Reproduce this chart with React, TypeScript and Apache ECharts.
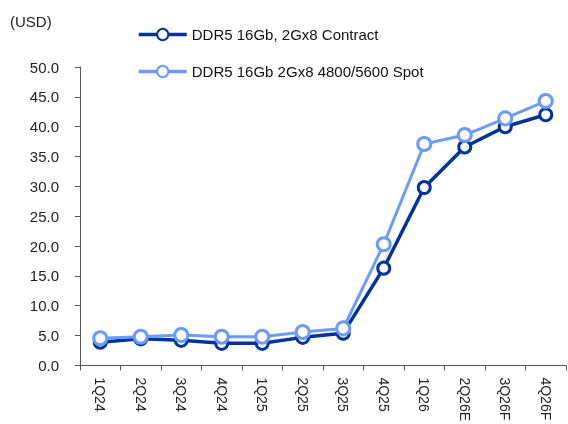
import React, { useEffect, useRef } from "react";
import * as echarts from "echarts";

const categories = ["1Q24", "2Q24", "3Q24", "4Q24", "1Q25", "2Q25", "3Q25", "4Q25", "1Q26", "2Q26E", "3Q26F", "4Q26F"];
const contract = [3.9, 4.45, 4.2, 3.7, 3.7, 4.7, 5.4, 16.3, 29.8, 36.6, 40.0, 42.0];
const spot = [4.55, 4.8, 5.1, 4.8, 4.8, 5.6, 6.2, 20.3, 37.1, 38.6, 41.4, 44.3];
const seriesNames = ["DDR5 16Gb, 2Gx8 Contract", "DDR5 16Gb 2Gx8 4800/5600 Spot"];
const unitLabel = "(USD)";

const FONT = "'Liberation Sans', Arial, sans-serif";
const DARK = "#00349b";
const LIGHT = "#6b9bff";

export default function App() {
  const ref = useRef<HTMLDivElement>(null);
  useEffect(() => {
    if (!ref.current) return;
    const chart = echarts.init(ref.current, undefined, { renderer: "svg" });
    chart.setOption({
      animation: false,
      textStyle: { fontFamily: FONT },
      graphic: [
        {
          type: "text",
          left: 10,
          top: 14,
          style: { text: unitLabel, font: `15px ${FONT}`, fill: "#222" },
        },
      ],
      legend: {
        orient: "vertical",
        left: 137,
        top: 27,
        padding: 0,
        itemWidth: 48,
        itemHeight: 14,
        itemGap: 22,
        lineStyle: { width: 3.5 },
        textStyle: { fontFamily: FONT, fontSize: 15, color: "#111" },
        data: seriesNames,
      },
      grid: { left: 80, right: 2, top: 67, bottom: 57, containLabel: false },
      xAxis: {
        type: "category",
        data: categories,
        boundaryGap: true,
        axisLine: { lineStyle: { color: "#555", width: 1 } },
        axisTick: { show: true, length: 5, alignWithLabel: false, lineStyle: { color: "#555" } },
        axisLabel: { rotate: -90, margin: 12, fontFamily: FONT, fontSize: 14, color: "#222" },
      },
      yAxis: {
        type: "value",
        min: 0,
        max: 50,
        interval: 5,
        splitLine: { show: false },
        axisLine: { show: true, lineStyle: { color: "#555", width: 1 } },
        axisTick: { show: true, length: 5, lineStyle: { color: "#555" } },
        axisLabel: {
          margin: 21,
          fontFamily: FONT,
          fontSize: 15,
          color: "#222",
          formatter: (v: number) => v.toFixed(1),
        },
      },
      series: [
        {
          name: seriesNames[0],
          type: "line",
          data: contract,
          symbol: "circle",
          symbolSize: 12,
          lineStyle: { color: DARK, width: 3.5 },
          itemStyle: { color: "#fff", borderColor: DARK, borderWidth: 3 },
          z: 2,
        },
        {
          name: seriesNames[1],
          type: "line",
          data: spot,
          symbol: "circle",
          symbolSize: 13,
          lineStyle: { color: LIGHT, width: 3 },
          itemStyle: { color: "#fff", borderColor: LIGHT, borderWidth: 3 },
          z: 3,
        },
      ],
    });
    return () => chart.dispose();
  }, []);
  return <div ref={ref} style={{ position: "fixed", left: 0, top: 0, width: 568, height: 424 }} />;
}
